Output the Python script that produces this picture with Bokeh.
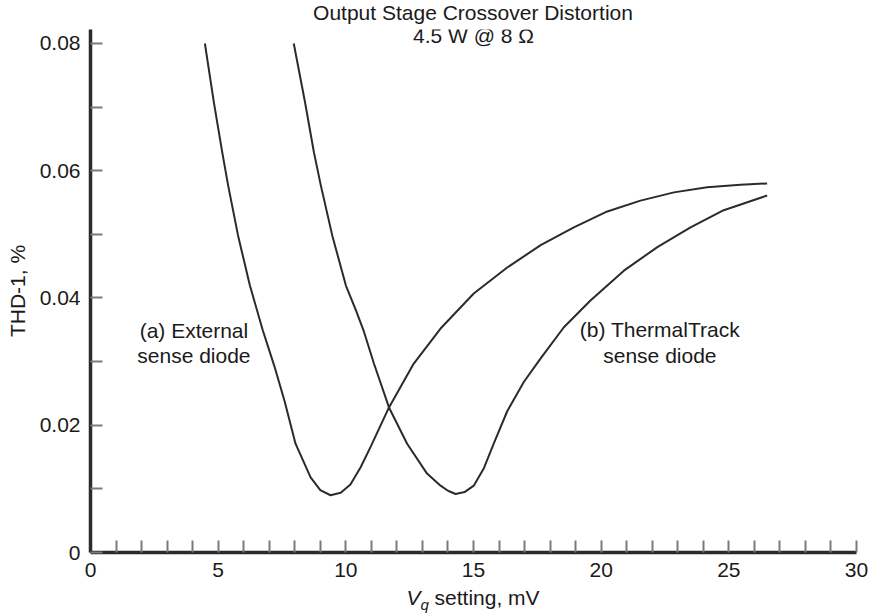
from bokeh.plotting import figure
from bokeh.models import Range1d, FixedTicker, Label, Div
from bokeh.layouts import column
from bokeh.embed import file_html
from bokeh.resources import INLINE

# ---- data ----
vq_a = [4.48, 4.83, 5.16, 5.39, 5.78, 6.24, 6.75, 7.2, 7.6, 8.03, 8.62, 9.0, 9.4, 9.8,
        10.18, 10.58, 10.97, 11.69, 12.66, 13.71, 15.01, 16.32, 17.63, 18.93, 20.24, 21.54,
        22.85, 24.15, 25.46, 26.5]
thd_a = [0.0800, 0.0708, 0.0629, 0.0577, 0.0498, 0.0420, 0.0349, 0.0293, 0.0238, 0.0171, 0.0118,
         0.0098, 0.0090, 0.0094, 0.0107, 0.0134, 0.0166, 0.0228, 0.0297, 0.0352, 0.0407, 0.0448,
         0.0483, 0.0511, 0.0536, 0.0553, 0.0566, 0.0574, 0.0578, 0.0580]

vq_b = [7.96, 8.4, 8.75, 9.02, 9.47, 10.0, 10.4, 10.71, 11.1, 11.69, 12.4, 13.18, 13.71, 14.0, 14.3,
        14.65, 15.01, 15.4, 15.8, 16.32, 16.97, 17.63, 18.54, 19.58, 20.89, 22.2, 23.5, 24.8, 26.5]
thd_b = [0.0800, 0.0708, 0.0629, 0.0577, 0.0498, 0.0420, 0.0380, 0.0347, 0.0297, 0.0228, 0.0171, 0.0124,
         0.0105, 0.0097, 0.0092, 0.0095, 0.0105, 0.0132, 0.0172, 0.0222, 0.0268, 0.0305, 0.0354,
         0.0396, 0.0443, 0.0480, 0.0511, 0.0538, 0.0561]

x_ticks = [0, 5, 10, 15, 20, 25, 30]
x_tick_labels = ["0", "5", "10", "15", "20", "25", "30"]
x_minor_ticks = [1, 2, 3, 4, 6, 7, 8, 9, 11, 12, 13, 14, 16, 17, 18, 19, 21, 22, 23, 24, 26, 27, 28, 29]
y_ticks = [0, 0.02, 0.04, 0.06, 0.08]
y_tick_labels = ["0", "0.02", "0.04", "0.06", "0.08"]
y_minor_ticks = [0.01, 0.03, 0.05, 0.07]

title_lines = ["Output Stage Crossover Distortion", "4.5 W @ 8 \u03a9"]
label_a = ["(a) External", "sense diode"]
label_b = ["(b) ThermalTrack", "sense diode"]
y_label = "THD-1, %"
x_label_html = '<i>V</i><sub style="font-size:15px;vertical-align:-5px"><i>q</i></sub> setting, mV'

FONT = "Liberation Sans"
INK = "#2b2b2b"
TXT = "#1a1a1a"
FS = "21px"

p = figure(width=870, height=563, x_range=Range1d(0, 30), y_range=Range1d(0, 0.0822),
           output_backend="svg", toolbar_location=None, title=None,
           min_border_left=90, min_border_right=14, min_border_top=4, min_border_bottom=36)
p.outline_line_color = None
p.grid.visible = False
p.background_fill_color = "white"
p.border_fill_color = "white"

p.line(vq_a, thd_a, line_color=INK, line_width=2, line_join="round")
p.line(vq_b, thd_b, line_color=INK, line_width=2, line_join="round")

for ax in (p.xaxis[0], p.yaxis[0]):
    ax.axis_line_width = 3.5
    ax.axis_line_color = INK
    ax.major_tick_in = 12
    ax.major_tick_out = 0
    ax.minor_tick_in = 12
    ax.minor_tick_out = 0
    ax.major_tick_line_color = "#7a7a7a"
    ax.minor_tick_line_color = "#7a7a7a"
    ax.major_tick_line_width = 2
    ax.minor_tick_line_width = 2
    ax.major_label_text_font = FONT
    ax.major_label_text_font_size = FS
    ax.major_label_text_color = TXT
    ax.major_label_standoff = 10

p.xaxis.ticker = FixedTicker(ticks=x_ticks, minor_ticks=x_minor_ticks)
p.xaxis.major_label_overrides = dict(zip(x_ticks, x_tick_labels))
p.yaxis.ticker = FixedTicker(ticks=y_ticks, minor_ticks=y_minor_ticks)
p.yaxis.major_label_overrides = dict(zip(y_ticks, y_tick_labels))

p.yaxis.axis_label = y_label
p.yaxis.axis_label_text_font = FONT
p.yaxis.axis_label_text_font_size = FS
p.yaxis.axis_label_text_font_style = "normal"
p.yaxis.axis_label_text_color = TXT
p.yaxis.axis_label_standoff = 8


def add_label(x, y, text, yoff=0):
    p.add_layout(Label(x=x, y=y, text=text, text_font=FONT, text_font_size=FS,
                       text_align="center", text_baseline="alphabetic",
                       text_color=TXT, y_offset=yoff))


# second title line sits inside the frame, just above the curves
add_label(15, 0.0822, title_lines[1], yoff=-6)

# curve annotations
add_label(4.05, 0.0337, label_a[0], yoff=8)
add_label(4.05, 0.0337, label_a[1], yoff=-17.5)
add_label(22.3, 0.0338, label_b[0], yoff=8)
add_label(22.3, 0.0338, label_b[1], yoff=-18)

text_style = {"font-family": FONT, "font-size": FS, "color": TXT, "text-align": "center",
              "white-space": "nowrap"}

title_div = Div(text=title_lines[0], width=766, height=25, margin=(0, 0, 0, 90),
                styles=dict(text_style, **{"line-height": "26px"}))
xlabel_div = Div(text=x_label_html, width=766, height=27, margin=(0, 0, 0, 90),
                 styles=dict(text_style, **{"line-height": "19px"}))

layout = column(title_div, p, xlabel_div, spacing=0)

open("out.html", "w").write(file_html(layout, INLINE))
